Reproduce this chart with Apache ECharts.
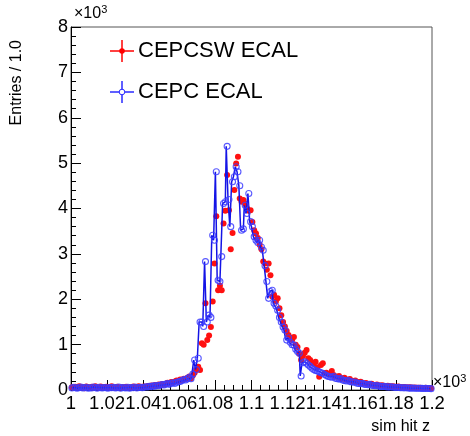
<!DOCTYPE html>
<html><head><meta charset="utf-8">
<script src="https://cdn.jsdelivr.net/npm/echarts@6/dist/echarts.min.js"></script>
<style>html,body{margin:0;padding:0;background:#fff}#c{width:470px;height:436px}</style>
</head><body><div id="c"></div>
<script>
// Histogram: 200 bins of width 1.0 from 1000 to 1200 (sim hit z)
const binStart = 1000;
const binWidth = 1;
const seriesNames = ['CEPCSW ECAL', 'CEPC ECAL'];
const xAxisTitle = 'sim hit z';
const yAxisTitle = 'Entries / 1.0';

const redValues = [
  60, 45, 70, 55, 80, 50, 65, 40, 75, 60,
  55, 70, 45, 85, 60, 50, 75, 55, 65, 70,
  50, 60, 80, 45, 55, 70, 60, 50, 65, 55,
  70, 45, 60, 55, 75, 50, 65, 80, 60, 70,
  75, 65, 90, 80, 100, 85, 110, 95, 120, 105,
  130, 115, 140, 160, 150, 175, 165, 190, 210, 200,
  230, 220, 250, 240, 270, 300, 260, 320, 380, 450,
  510, 440, 1030, 1000, 1910, 1100, 1200, 1390, 1950, 2790,
  3830, 2200, 2300, 2200, 3670, 3950, 4740, 3960, 3100, 3460,
  4410, 4990, 5140, 4220, 4150, 4190, 4100, 4000, 3950, 3960,
  3700, 3520, 3450, 3350, 3200, 3100, 2830, 2790, 2650, 2790,
  2530, 2060, 2100, 1950, 2020, 1800, 1650, 1500, 1400, 1300,
  1210, 1150, 1100, 1170, 1000, 950, 800, 660, 750, 820,
  880, 700, 660, 600, 580, 620, 500, 290, 550, 590,
  370, 380, 350, 340, 420, 330, 300, 290, 310, 260,
  250, 270, 230, 220, 240, 200, 195, 210, 175, 170,
  180, 150, 145, 155, 130, 125, 135, 115, 110, 120,
  100, 98, 105, 90, 88, 95, 80, 78, 85, 72,
  70, 75, 65, 63, 68, 58, 57, 60, 53, 52,
  55, 50, 48, 50, 46, 45, 47, 43, 42, 40
];
const blueValues = [
  45, 60, 50, 40, 55, 65, 45, 50, 60, 40,
  50, 45, 65, 55, 40, 60, 50, 45, 55, 50,
  40, 55, 50, 60, 45, 50, 65, 40, 55, 50,
  45, 60, 40, 55, 50, 65, 45, 55, 60, 50,
  60, 70, 65, 80, 75, 90, 85, 100, 95, 110,
  120, 110, 130, 140, 125, 150, 160, 145, 170, 180,
  190, 210, 230, 220, 250, 280, 250, 350, 660, 450,
  700, 1500, 1500, 1400, 2830, 1500, 1650, 1600, 3410, 3300,
  4810, 2420, 2390, 2940, 4110, 4150, 5370, 4200, 3600, 4590,
  4700, 4920, 4810, 4500, 3520, 3550, 4070, 3890, 4330, 3710,
  3600, 3380, 3300, 3250, 3300, 3150, 3080, 2740, 2390, 2020,
  2170, 2200, 1910, 1850, 1760, 1600, 1500, 1390, 1320, 1100,
  1150, 1050, 1000, 990, 900, 850, 810, 310, 600, 620,
  590, 550, 520, 480, 450, 430, 420, 400, 380, 370,
  340, 320, 300, 290, 280, 300, 260, 250, 240, 255,
  220, 210, 200, 215, 185, 180, 170, 175, 150, 145,
  140, 150, 125, 120, 115, 125, 105, 100, 95, 100,
  85, 80, 78, 82, 70, 68, 65, 70, 60, 58,
  55, 58, 50, 48, 47, 50, 44, 42, 41, 45,
  40, 38, 37, 40, 35, 34, 36, 33, 32, 30
];

const FONT = "'Liberation Sans', Arial, Helvetica, sans-serif";
const binCenters = redValues.map((_, i) => binStart + (i + 0.5) * binWidth);
const redData = binCenters.map((x, i) => [x, redValues[i]]);
const blueData = binCenters.map((x, i) => [x, blueValues[i]]);

const chart = echarts.init(document.getElementById('c'), null, {renderer: 'canvas'});
const G = {left: 71, right: 38, top: 27, bottom: 46};

const legendY = [51, 92];
const legendX = 122;
function legendItem(y, color, filled, name) {
  return [
    {type: 'line', shape: {x1: legendX - 12, y1: y, x2: legendX + 12, y2: y}, style: {stroke: color, lineWidth: 1.5}},
    {type: 'line', shape: {x1: legendX, y1: y - 11, x2: legendX, y2: y + 11}, style: {stroke: color, lineWidth: 1.5}},
    {type: 'circle', shape: {cx: legendX, cy: y, r: 2.8}, style: filled ? {fill: color} : {fill: '#fff', stroke: color, lineWidth: 1}},
    {type: 'text', x: legendX + 16, y: y, style: {text: name, font: '22px ' + FONT, fill: '#000', verticalAlign: 'middle'}}
  ];
}

chart.setOption({
  animation: false,
  backgroundColor: '#fff',
  grid: Object.assign({show: true, borderColor: '#555', borderWidth: 1, backgroundColor: 'transparent'}, G),
  xAxis: {
    type: 'value', min: 1000, max: 1200, interval: 20,
    axisLine: {show: true, onZero: false, lineStyle: {color: '#000', width: 1}},
    axisTick: {show: true, inside: true, length: 10, lineStyle: {color: '#000'}},
    minorTick: {show: true, splitNumber: 4, length: 5, lineStyle: {color: '#000'}},
    splitLine: {show: false},
    axisLabel: {color: '#000', fontSize: 18.5, fontFamily: FONT, margin: 4, showMinLabel: true, showMaxLabel: true, hideOverlap: false,
      formatter: v => String(+(v / 1000).toFixed(2))}
  },
  yAxis: {
    type: 'value', min: 0, max: 8000, interval: 1000,
    axisLine: {show: true, lineStyle: {color: '#000', width: 1}},
    axisTick: {show: true, inside: true, length: 10, lineStyle: {color: '#000'}},
    minorTick: {show: true, splitNumber: 5, length: 5, lineStyle: {color: '#000'}},
    splitLine: {show: false},
    axisLabel: {color: '#000', fontSize: 18, fontFamily: FONT, margin: 3,
      formatter: v => String(v / 1000)}
  },
  graphic: [
    {type: 'text', x: 17, y: 40, rotation: Math.PI / 2, style: {text: yAxisTitle, font: '16px ' + FONT, fill: '#000', align: 'right', verticalAlign: 'middle'}},
    {type: 'text', x: 430, y: 427, style: {text: xAxisTitle, font: '16px ' + FONT, fill: '#000', align: 'right', verticalAlign: 'middle'}},
    {type: 'text', x: 74, y: 14, style: {rich: {a: {fontSize: 16, fontFamily: FONT, fill: '#000'}, s: {fontSize: 11, fontFamily: FONT, fill: '#000', padding: [0, 0, 8, 0]}}, text: '{a|×10}{s|3}', verticalAlign: 'middle'}},
    {type: 'text', x: 433, y: 383, style: {rich: {a: {fontSize: 16, fontFamily: FONT, fill: '#000'}, s: {fontSize: 11, fontFamily: FONT, fill: '#000', padding: [0, 0, 8, 0]}}, text: '{a|×10}{s|3}', verticalAlign: 'middle'}},
    ...legendItem(legendY[0], '#ff0000', true, seriesNames[0]),
    ...legendItem(legendY[1], '#2a2aff', false, seriesNames[1])
  ],
  series: [
    {
      name: seriesNames[0], type: 'scatter', data: redData,
      symbol: 'circle', symbolSize: 6,
      itemStyle: {color: '#ff1010', opacity: 1},
      z: 2
    },
    {
      name: seriesNames[1], type: 'line', step: 'middle', data: blueData,
      symbol: 'circle', symbolSize: 6, showAllSymbol: true,
      lineStyle: {color: '#1414e6', width: 1.5},
      itemStyle: {color: 'rgba(0,0,0,0)', borderColor: 'rgba(60,60,255,0.85)', borderWidth: 1.1},
      z: 3
    }
  ]
});
</script></body></html>
